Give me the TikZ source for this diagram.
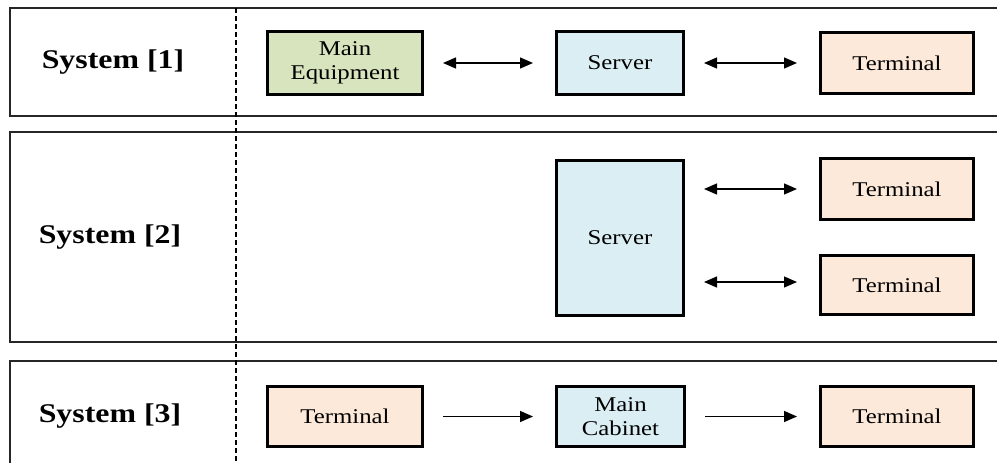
\documentclass[tikz,border=0pt]{standalone}
\usepackage{fontspec}
\setmainfont{Liberation Serif}[FakeStretch=1.18]
\usetikzlibrary{arrows.meta}

\definecolor{eqgreen}{HTML}{D7E4BD}
\definecolor{srvblue}{HTML}{DAEEF3}
\definecolor{termpeach}{HTML}{FDE9D9}

\tikzset{
  panel/.style={draw=black!85, line width=2pt},
  sysbox/.style={draw=black, line width=3pt, align=center, inner sep=0pt,
    font=\fontsize{21}{24}\selectfont},
  syslabel/.style={font=\bfseries\fontsize{27}{30}\selectfont, inner sep=0pt},
  arrowhd/.tip={Triangle[length=13pt,width=11pt]},
  link/.style={line width=1.3pt, shorten <=19pt, shorten >=22pt},
  divider/.style={line width=1.1pt, dash pattern=on 5pt off 3pt}
}

\begin{document}
\begin{tikzpicture}[x=1pt, y=-1pt]
  \useasboundingbox (0,0) rectangle (997,463);
  \clip (0,0) rectangle (997,463);

  % panel frames
  \draw[panel] (10,8) rectangle (1010,116);
  \draw[panel] (10,132) rectangle (1010,342);
  \draw[panel] (10,361) rectangle (1010,480);

  % column divider
  \draw[divider] (236,8) -- (236,470);

  % row titles
  \node[syslabel] (l1) at (113,62) {System [1]};
  \node[syslabel] (l2) at (110,237) {System [2]};
  \node[syslabel] (l3) at (110,416) {System [3]};

  % System [1]
  \node[sysbox, fill=eqgreen, minimum width=155pt, minimum height=63pt]
    (me) at (345,63) {Main\\Equipment};
  \node[sysbox, fill=srvblue, minimum width=127pt, minimum height=63pt]
    (s1) at (620,63) {Server};
  \node[sysbox, fill=termpeach, minimum width=153pt, minimum height=61pt]
    (t1) at (897,63) {Terminal};
  \draw[link, arrowhd-arrowhd] (me) -- (s1);
  \draw[link, arrowhd-arrowhd] (s1) -- (t1);

  % System [2]
  \node[sysbox, fill=srvblue, minimum width=127pt, minimum height=155pt]
    (s2) at (620,238) {Server};
  \node[sysbox, fill=termpeach, minimum width=153pt, minimum height=61pt]
    (t2a) at (897,189) {Terminal};
  \node[sysbox, fill=termpeach, minimum width=153pt, minimum height=59pt]
    (t2b) at (897,285) {Terminal};
  \draw[link, arrowhd-arrowhd] (t2a.west -| s2.east) -- (t2a.west);
  \draw[link, arrowhd-arrowhd] ([yshift=3pt]t2b.west -| s2.east) -- ([yshift=3pt]t2b.west);

  % System [3]
  \node[sysbox, fill=termpeach, minimum width=155pt, minimum height=60pt]
    (t3a) at (345,416.5) {Terminal};
  \node[sysbox, fill=srvblue, minimum width=128pt, minimum height=60pt]
    (mc) at (620.5,416.5) {Main\\Cabinet};
  \node[sysbox, fill=termpeach, minimum width=153pt, minimum height=60pt]
    (t3b) at (897,416.5) {Terminal};
  \draw[link, -arrowhd] (t3a) -- (mc);
  \draw[link, -arrowhd] (mc) -- (t3b);
\end{tikzpicture}
\end{document}
